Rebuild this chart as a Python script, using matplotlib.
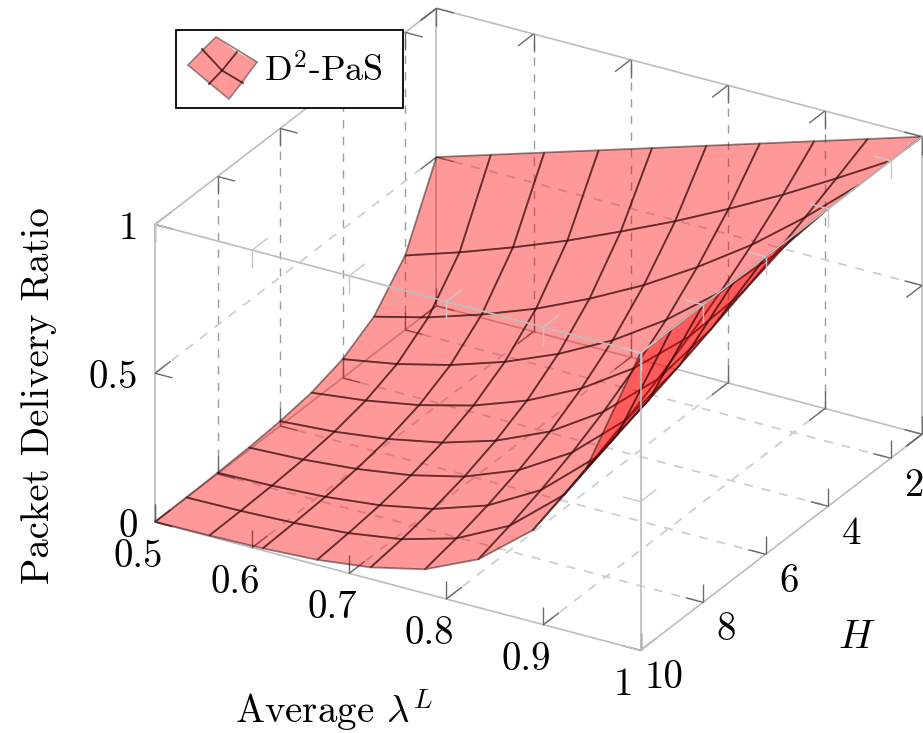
import numpy as np
import matplotlib
matplotlib.use("Agg")
import matplotlib.pyplot as plt
from matplotlib.patches import Polygon, Rectangle
from mpl_toolkits.mplot3d import proj3d

plt.rcParams['font.family'] = ['cmr10', 'DejaVu Serif']
plt.rcParams['mathtext.fontset'] = 'cm'
plt.rcParams['axes.formatter.use_mathtext'] = True

# ---- data ----
lambda_vals = [0.5, 0.556, 0.611, 0.667, 0.722, 0.778, 0.833, 0.889, 0.944, 1.0]
h_vals = [1, 2, 3, 4, 5, 6, 7, 8, 9, 10]
pdr_h1 = [.500, .556, .611, .667, .722, .778, .833, .889, .944, 1]
pdr_h2 = [.250, .309, .373, .444, .522, .605, .694, .790, .892, 1]
pdr_h3 = [.125, .171, .228, .296, .377, .471, .579, .702, .842, 1]
pdr_h4 = [.063, .095, .139, .198, .272, .366, .482, .624, .795, 1]
pdr_h5 = [.031, .053, .085, .132, .196, .285, .402, .555, .751, 1]
pdr_h6 = [.016, .029, .052, .088, .142, .221, .335, .493, .709, 1]
pdr_h7 = [.008, .016, .032, .059, .102, .172, .279, .438, .669, 1]
pdr_h8 = [.004, .009, .019, .039, .074, .134, .233, .390, .632, 1]
pdr_h9 = [.002, .005, .012, .026, .053, .104, .194, .346, .596, 1]
pdr_h10 = [.001, .003, .007, .017, .039, .081, .162, .308, .563, 1]
x_ticks = [0.5, 0.6, 0.7, 0.8, 0.9, 1]
x_ticklabels = ['0.5', '0.6', '0.7', '0.8', '0.9', '1']
h_ticks = [2, 4, 6, 8, 10]
z_ticks = [0, 0.5, 1]
z_ticklabels = ['0', '0.5', '1']
series_name = r'D$^2$-PaS'
xlabel = r'Average $\lambda^L$'
ylabel = r'$H$'
zlabel = 'Packet Delivery Ratio'

W, H_PX = 923, 733
FS = 28
BOX = (0.74, 0.74, 0.74)
GRID_V = (0.6, 0.62, 0.62)
GRID_D = (0.8, 0.81, 0.81)
TICK = (0.42, 0.42, 0.42)
FACE = (1, 0, 0, 0.4)
EDGE = (0.1, 0, 0, 0.47)

fig = plt.figure(figsize=(W / 100, H_PX / 100), dpi=100)
ax = fig.add_axes([0, 0, 1, 1], projection='3d', proj_type='ortho', computed_zorder=False)
ax.view_init(elev=26.78, azim=-59.6)
ax.set_box_aspect((1, 0.988, 0.592))
ax.set_axis_off()

X, Y = np.meshgrid(lambda_vals, h_vals)
Z = np.array([pdr_h1, pdr_h2, pdr_h3, pdr_h4, pdr_h5, pdr_h6, pdr_h7, pdr_h8, pdr_h9, pdr_h10])
ax.plot_surface(X, Y, Z, rstride=1, cstride=1, color=FACE, edgecolor=EDGE,
                linewidth=1.3, shade=False, zorder=2)

xa, xb = x_ticks[0], x_ticks[-1]
ha, hb = h_vals[0], h_vals[-1]
za, zb = z_ticks[0], z_ticks[-1]


def seg(p, q, **kw):
    ax.plot([p[0], q[0]], [p[1], q[1]], [p[2], q[2]], **kw)


# box edges
def box(p, q, z=1, color=BOX):
    seg(p, q, color=color, lw=1.2, zorder=z, solid_capstyle='butt')


for xx in (xa, xb):
    for hh in (ha, hb):
        front = xx == xb and hh == hb
        box((xx, hh, za), (xx, hh, zb), 3 if front else 1)
for zz in (za, zb):
    box((xa, ha, zz), (xb, ha, zz))
    box((xa, ha, zz), (xa, hb, zz))
    box((xb, ha, zz), (xb, hb, zz), 3 if zz == zb else 1)
    box((xa, hb, zz), (xb, hb, zz), 3 if zz == zb else 1)


# grid
def grid(p, q, vertical=False):
    seg(p, q, color=GRID_V if vertical else GRID_D, lw=1.0 if vertical else 1.3,
        ls=(0, (6, 6)) if vertical else (0, (5, 5)), zorder=1)


for t in x_ticks[1:-1]:
    grid((t, ha, za), (t, hb, za))
    grid((t, ha, za), (t, ha, zb), True)
for t in h_ticks[:-1]:
    grid((xa, t, za), (xb, t, za))
    grid((xa, t, za), (xa, t, zb), True)
for t in z_ticks[1:-1]:
    grid((xa, ha, t), (xb, ha, t))
    grid((xa, ha, t), (xa, hb, t))

# tick marks on every box edge, pointing inwards
DX, DH, DZ = 0.018, 0.5, 0.06


def tick(p, d, front):
    q = (p[0] + d[0], p[1] + d[1], p[2] + d[2])
    c = (0.8, 0.78, 0.78) if front else TICK
    seg(p, q, color=c, lw=1.0, zorder=3 if front else 1, solid_capstyle='butt')


for t in x_ticks:
    for hh, sh in ((hb, -1), (ha, 1)):
        for zz, sz in ((za, 1), (zb, -1)):
            front = hh == hb and zz == zb
            tick((t, hh, zz), (0, 0, sz * DZ), front)
            tick((t, hh, zz), (0, sh * DH, 0), front)
for t in h_ticks:
    for xx, sx in ((xa, 1), (xb, -1)):
        for zz, sz in ((za, 1), (zb, -1)):
            front = xx == xb and zz == zb
            tick((xx, t, zz), (0, 0, sz * DZ), front)
            tick((xx, t, zz), (sx * DX, 0, 0), front)
for t in z_ticks:
    for xx, sx in ((xa, 1), (xb, -1)):
        for hh, sh in ((hb, -1), (ha, 1)):
            front = xx == xb and hh == hb
            tick((xx, hh, t), (sx * DX, 0, 0), front)
            tick((xx, hh, t), (0, sh * DH, 0), front)

ax.set_xlim(xa, xb)
ax.set_ylim(hb, ha)
ax.set_zlim(za, zb)


# place the 3D box on the figure: two box corners to their pixels
def px(x, y, z):
    ax.apply_aspect()
    xs, ys, _ = proj3d.proj_transform(x, y, z, ax.get_proj())
    return ax.transData.transform((xs, ys))


target_a = np.array([155.0, H_PX - 522.0])
target_b = np.array([922.0, H_PX - 133.0])
ax.set_position([0, 0, H_PX / W, 1])
a0, b0 = px(xa, hb, za), px(xb, ha, zb)
s = (target_b[0] - target_a[0]) / (b0[0] - a0[0])
side = H_PX * s
ax.set_position([0, 0, side / W, side / H_PX])
a1 = px(xa, hb, za)
shift = target_a - a1
ax.set_position([shift[0] / W, shift[1] / H_PX, side / W, side / H_PX])

# overlay in pixel coordinates: legend, tick labels and axis titles
ov = fig.add_axes([0, 0, 1, 1], zorder=5)
ov.set_xlim(0, W)
ov.set_ylim(H_PX, 0)
ov.axis('off')
ov.patch.set_alpha(0)


def label_at(p3, dx, dy, s, **kw):
    p = px(*p3)
    ov.text(p[0] + dx, H_PX - p[1] + dy, s, fontsize=FS, color='k', va='center', **kw)


for t, s_ in zip(x_ticks, x_ticklabels):
    label_at((t, hb, za), -17, 35, s_, ha='center')
for t in h_ticks:
    label_at((xb, t, za), 23, 28, str(t), ha='center')
for t, s_ in zip(z_ticks, z_ticklabels):
    label_at((xa, hb, t), -17, 5, s_, ha='right')

ov.add_patch(Rectangle((176, 29.5), 227, 78.5, fc='white', ec='black', lw=1.3, zorder=1))
top, right, bot, left = (216, 37), (257, 62), (229, 99), (188, 65)
ctr, mtl, mtr, mbr, mbl = (222, 70.5), (202, 49), (237, 52), (243, 83), (209, 84)
for cell in ([left, mtl, ctr, mbl], [mtl, top, mtr, ctr], [ctr, mtr, right, mbr], [mbl, ctr, mbr, bot]):
    ov.add_patch(Polygon(cell, closed=True, fc=(1, 0, 0, 0.4), lw=0, zorder=2))
ov.add_patch(Polygon([top, right, bot, left], closed=True, fc='none', ec=(0.6, 0.48, 0.48), lw=1.2, zorder=3))
LEG_EDGE = (0.1, 0, 0, 0.72)
ov.plot([mtl[0], ctr[0], mbr[0]], [mtl[1], ctr[1], mbr[1]], color=LEG_EDGE, lw=1.3, zorder=4)
ov.plot([mtr[0], ctr[0], mbl[0]], [mtr[1], ctr[1], mbl[1]], color=LEG_EDGE, lw=1.3, zorder=4)
ov.text(264, 71, series_name, fontsize=26, ha='left', va='center', color='k', zorder=5)
ov.text(39, 396, zlabel, fontsize=FS, rotation=90, ha='center', va='center', color='k')
ov.text(334, 710, xlabel, fontsize=FS, ha='center', va='center', color='k')
ov.text(857, 638, ylabel, fontsize=FS + 1, ha='center', va='center', color='k')

fig.savefig('out.png', dpi=100)
